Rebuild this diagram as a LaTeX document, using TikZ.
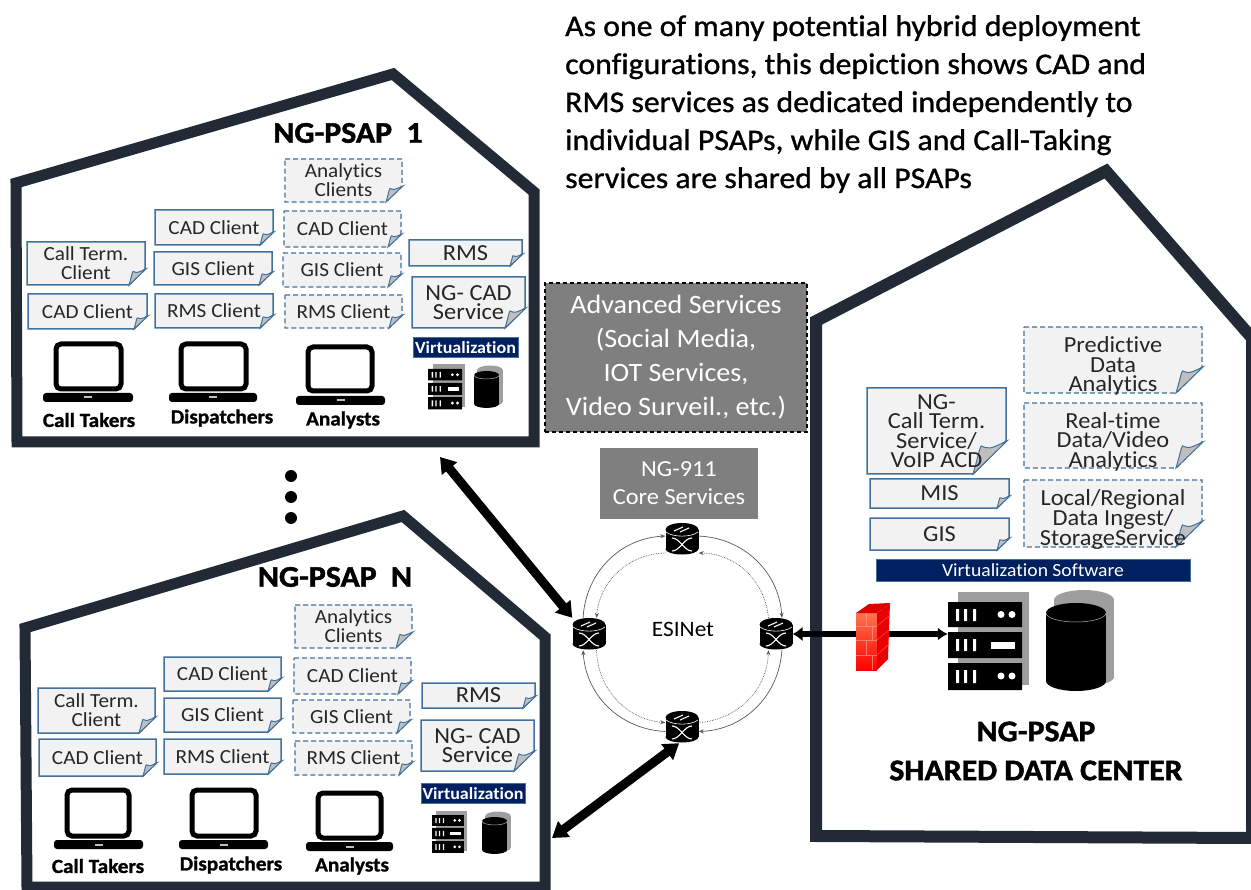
\documentclass[tikz,border=0pt]{standalone}
\usepackage{fontspec}
\setmainfont[FakeStretch=1.06,Ligatures=CommonOff]{Carlito}
\usetikzlibrary{arrows.meta,calc}
\definecolor{wall}{HTML}{222B35}
\definecolor{noteline}{HTML}{41719C}
\definecolor{notefill}{HTML}{F2F2F2}
\definecolor{foldgray}{HTML}{BFBFBF}
\definecolor{navy}{HTML}{002060}
\definecolor{boxgray}{HTML}{7F7F7F}
\newcommand{\ft}[2]{\fontsize{#1}{#2}\selectfont}
\newcommand{\tshift}{0}
\tikzset{
  house/.style={draw=wall,line width=11pt,fill=white,miter limit=10},
  solidnote/.style={draw=noteline,line width=1.5pt,fill=notefill},
  dashnote/.style={draw=noteline,line width=1.4pt,fill=notefill,dash pattern=on 5pt off 3pt},
  notetext/.style={inner sep=0pt,align=center,text=black!85},
  bar/.style={fill=navy,draw=noteline,line width=1pt,text=white,inner sep=0pt,align=center},
  greybox/.style={fill=boxgray,text=white,inner sep=0pt,align=center},
  caption/.style={inner sep=0pt,align=center,font=\addfontfeature{FakeBold=1.2}\bfseries\ft{20}{24}},
  title/.style={inner sep=0pt,align=center,font=\addfontfeature{FakeBold=1.5}\bfseries\ft{30}{39}},
  fat/.style={line width=9pt,black,{Triangle[length=15pt,width=19pt]}-{Triangle[length=15pt,width=19pt]}},
  ringsolid/.style={draw=black!65,line width=.7pt,-{Stealth[length=5pt,width=4pt]}},
  ringdot/.style={draw=black!65,line width=.7pt,densely dotted,-{Stealth[length=5pt,width=4pt]}},
}
% name x1 y1 x2 y2 fold style text font
\newcommand{\notebox}[9]{%
  \draw[#7] (#2,#3) -- (#4,#3) -- (#4,#5-#6) -- (#4-#6,#5) -- (#2,#5) -- cycle;
  \fill[foldgray,draw=noteline,line width=1pt] (#4-#6,#5) .. controls (#4-#6*.85,#5-#6*.5) and (#4-#6*.8,#5-#6*.8) .. (#4-#6*.75,#5-#6*.85) .. controls (#4-#6*.5,#5-#6*.75) .. (#4+1,#5-#6) -- cycle;
  \node[notetext,font=#9] (#1) at ({(#2+#4)/2},{(#3+#5)/2+\tshift}) {#8};
}
% x1 y1 x2 y2 bx1 bx2 by1 by2
\newcommand{\laptop}[8]{%
  \draw[black,line width=5pt,rounded corners=5pt,fill=white] (#1,#2) rectangle (#3,#4);
  \fill[black,rounded corners=3pt] (#5,#7) -- (#6,#7) -- (#6,#8) -- (#5,#8) -- cycle;
  \fill[white!75!black] ({(#5+#6)/2-4},{(#7+#8)/2-1}) rectangle ({(#5+#6)/2+4},{(#7+#8)/2+1});
}
% name x y
\newcommand{\router}[3]{%
  \node[minimum width=33pt,minimum height=32pt,inner sep=0pt] (#1) at (#2,#3) {};
  \begin{scope}[shift={(#2,#3)}]
    \fill[black] (-16.5,-9) rectangle (16.5,10);
    \fill[black] (0,-9.5) ellipse (16.5 and 6.5);
    \fill[black] (0,10) ellipse (16.5 and 5.5);
    \draw[white,line width=.6pt] (-16,-7) .. controls (-9,-1.5) and (9,-1.5) .. (16,-7);
    \draw[white,line width=1.1pt] (-8,-8) -- (1,-12) (-2,-7) -- (7,-11);
    \draw[white,line width=1.1pt] (-10,-1) .. controls (-2,-1) and (2,12) .. (10,12);
    \draw[white,line width=1.1pt] (10,-1) .. controls (2,-1) and (-2,12) .. (-10,12);
  \end{scope}
}
% name x y scale
\newcommand{\servers}[4]{%
  \node[minimum width=#4*74pt,minimum height=#4*88pt,inner sep=0pt] (#1) at ({#2+#4*37},{#3+#4*44}) {};
  \begin{scope}[shift={(#2,#3)},x=#4pt,y=-#4pt]
    \fill[black!38] (10,-10) rectangle (81,83);
    \fill[black] (0,0) rectangle (74,25) (0,30) rectangle (74,56) (0,61) rectangle (74,88);
    \fill[white] (8,7) rectangle (11,19) (16,7) rectangle (19,19) (25,7) rectangle (28,19);
    \fill[white] (8,37) rectangle (11,49) (16,37) rectangle (19,49) (25,37) rectangle (28,49);
    \fill[white] (8,68) rectangle (11,81) (16,68) rectangle (19,81) (25,68) rectangle (28,81);
    \fill[white] (53,12.5) circle (3.5) (64,12.5) circle (3.5) (53,74) circle (3.5) (64,74) circle (3.5);
    \fill[white] (43,40) rectangle (67,47);
  \end{scope}
}
% name x y scale
\newcommand{\drum}[4]{%
  \node[minimum width=#4*60pt,minimum height=#4*88pt,inner sep=0pt] (#1) at ({#2+#4*30},{#3+#4*44}) {};
  \begin{scope}[shift={(#2,#3)},x=#4pt,y=-#4pt]
    \fill[black!38] (8,-3) rectangle (68,74);
    \fill[black!38] (38,-3) ellipse (30 and 10);
    \fill[black!38] (38,74) ellipse (30 and 9);
    \fill[black] (0,10) rectangle (60,78);
    \fill[black] (30,10) ellipse (30 and 10);
    \fill[black] (30,78) ellipse (30 and 10);
    \draw[white!70!black,line width=.5pt] (0,10) arc[start angle=180,end angle=360,x radius=30,y radius=-9];
  \end{scope}
}
\begin{document}
\begin{tikzpicture}[x=1pt,y=-1pt]
\clip (0,0) rectangle (1251,890);
\fill[white] (0,0) rectangle (1251,890);

% ---------- houses
\draw[house] (16,183) -- (393,74) -- (534,192) -- (534,442) -- (17,442) -- cycle;
\draw[house] (25,628) -- (403,516) -- (545,637) -- (545,887) -- (27,887) -- cycle;
\draw[house,line width=12pt] (816,321) -- (1106,171) -- (1252,338) -- (1252,838) -- (816,836) -- cycle;

% ---------- header
\node[anchor=north west,inner sep=0pt,align=left,text=black,font=\addfontfeature{FakeBold=1}\ft{30}{38}] (head) at (565,15)
 {As one of many potential hybrid deployment\\configurations, this depiction shows CAD and\\RMS services as dedicated independently to\\individual PSAPs, while GIS and Call-Taking\\services are shared by all PSAPs};

% ---------- house 1
\node[title] (t1) at (348,133) {NG-PSAP\ \ 1};
\notebox{a1}{27}{242}{145}{285}{16}{solidnote}{Call Term.\\Client}{\ft{20}{19}}
\notebox{a2}{28}{294}{147}{329}{13}{solidnote}{CAD Client}{\ft{20}{20}}
\notebox{b1}{155}{210}{273}{245}{13}{solidnote}{CAD Client}{\ft{20}{20}}
\notebox{b2}{154}{252}{272}{285}{13}{solidnote}{GIS Client}{\ft{20}{20}}
\notebox{b3}{155}{294}{273}{328}{13}{solidnote}{RMS Client}{\ft{20}{20}}
\notebox{c1}{285}{159}{402}{202}{16}{dashnote}{Analytics\\Clients}{\ft{20}{19}}
\notebox{c2}{284}{211}{401}{247}{13}{dashnote}{CAD Client}{\ft{20}{20}}
\notebox{c3}{283}{253}{401}{287}{13}{dashnote}{GIS Client}{\ft{20}{20}}
\notebox{c4}{285}{295}{402}{328}{13}{dashnote}{RMS Client}{\ft{20}{20}}
\notebox{d1}{409}{240}{522}{266}{12}{solidnote}{RMS}{\ft{23}{22}}
\notebox{d2}{412}{277}{525}{328}{20}{solidnote}{NG- CAD\\Service}{\ft{23}{19.5}}
\node[bar,minimum width=105pt,minimum height=20pt,font=\bfseries\ft{17}{18}] (v1) at (465.5,348) {Virtualization};
\servers{s1}{428}{369}{.46}
\drum{y1}{474}{371}{.42}
\laptop{56}{344}{121}{389}{43}{133}{393}{402}
\laptop{181}{344}{246}{389}{169}{257}{393}{402}
\laptop{308}{347}{372}{391}{296}{385}{396}{405}
\node[caption] (l1) at (89,420) {Call Takers};
\node[caption] (l2) at (222,418) {Dispatchers};
\node[caption] (l3) at (343,420) {Analysts};

% ---------- dots
\fill[black] (291,476) circle (6) (291,497) circle (6) (291,518) circle (6);

% ---------- house N
\node[title] (t2) at (335,577) {NG-PSAP\ \ N};
\notebox{e1}{38}{688}{155}{733}{16}{solidnote}{Call Term.\\Client}{\ft{20}{19}}
\notebox{e2}{39}{739}{156}{776}{13}{solidnote}{CAD Client}{\ft{20}{20}}
\notebox{f1}{164}{657}{281}{691}{13}{solidnote}{CAD Client}{\ft{20}{20}}
\notebox{f2}{164}{698}{281}{732}{13}{solidnote}{GIS Client}{\ft{20}{20}}
\notebox{f3}{164}{739}{281}{774}{13}{solidnote}{RMS Client}{\ft{20}{20}}
\notebox{g1}{295}{605}{412}{648}{16}{dashnote}{Analytics\\Clients}{\ft{20}{19}}
\notebox{g2}{294}{658}{411}{694}{13}{dashnote}{CAD Client}{\ft{20}{20}}
\notebox{g3}{293}{700}{410}{733}{13}{dashnote}{GIS Client}{\ft{20}{20}}
\notebox{g4}{295}{741}{412}{775}{13}{dashnote}{RMS Client}{\ft{20}{20}}
\notebox{h1}{422}{683}{535}{708}{12}{solidnote}{RMS}{\ft{23}{22}}
\notebox{h2}{421}{720}{534}{771}{20}{solidnote}{NG- CAD\\Service}{\ft{23}{19.5}}
\node[bar,minimum width=104pt,minimum height=20pt,font=\bfseries\ft{17}{18}] (v2) at (473,793.5) {Virtualization};
\servers{s2}{432}{815}{.43}
\drum{y2}{482}{817}{.42}
\laptop{67}{790}{129}{836}{54}{143}{840}{849}
\laptop{192}{790}{256}{836}{179}{268}{840}{849}
\laptop{318}{793}{381}{838}{306}{393}{842}{851}
\node[caption] (m1) at (98,866) {Call Takers};
\node[caption] (m2) at (231,865) {Dispatchers};
\node[caption] (m3) at (352,866) {Analysts};

% ---------- grey boxes
\node[greybox,draw=black,dash pattern=on 4pt off 3pt,line width=1.5pt,minimum width=262pt,minimum height=149pt,font=\ft{26.5}{34}] (adv) at (676,357.5)
 {Advanced Services\\(Social Media,\\IOT Services,\\Video Surveil., etc.)};
\node[greybox,minimum width=158pt,minimum height=71pt,font=\ft{23}{28}] (core) at (679,483.5) {NG-911\\Core Services};

% ---------- ESINet
\router{rt}{682}{539}
\router{rl}{589}{634}
\router{rr}{776}{634}
\router{rb}{682}{727}
\draw[ringsolid] (rl.110) to[bend left=42] (rt.170);
\draw[ringsolid] (rt.10) to[bend left=42] (rr.70);
\draw[ringsolid] (rr.-70) to[bend left=42] (rb.-15);
\draw[ringsolid] (rb.-165) to[bend left=42] (rl.-110);
\draw[ringdot] (rt.-140) to[bend right=42] (rl.65);
\draw[ringdot] (rr.115) to[bend right=42] (rt.-40);
\draw[ringdot] (rl.-65) to[bend right=42] (rb.165);
\draw[ringdot] (rb.15) to[bend right=42] (rr.-115);
\node[inner sep=0pt,font=\ft{22}{22}] (esi) at (683,629) {ESINet};

% ---------- shared data center
\notebox{n1}{867}{388}{1006}{474}{33}{solidnote}{NG-\\Call Term.\\Service/\\VoIP ACD}{\ft{23}{19.5}}
\notebox{n2}{870}{479}{1009}{508}{12}{solidnote}{MIS}{\ft{23}{22}}
\notebox{n3}{870}{518}{1009}{550}{12}{solidnote}{GIS}{\ft{23}{22}}
\renewcommand{\tshift}{6}
\notebox{p1}{1024}{327}{1202}{393}{26}{dashnote}{Predictive\\Data\\Analytics}{\ft{23}{19.5}}
\notebox{p2}{1024}{403}{1202}{468}{26}{dashnote}{Real-time\\Data/Video\\Analytics}{\ft{23}{19.5}}
\notebox{p3}{1024}{480}{1202}{547}{26}{dashnote}{Local/Regional\\Data Ingest/\\StorageService}{\ft{23}{20}}
\renewcommand{\tshift}{0}
\node[bar,minimum width=314pt,minimum height=22pt,font=\ft{18.5}{18}] (v3) at (1033,570) {Virtualization Software};
\servers{srv}{948}{602}{1}
\drum{dsk}{1046}{603}{1}
\node[title] (t3) at (1036,751) {NG-PSAP\\SHARED DATA CENTER};

% ---------- connectors
\coordinate (h1port) at (440,457);
\coordinate (hnport) at (552,838);
\draw[fat] (h1port) -- (rl.north west);
\draw[fat] (hnport) -- (rb.-100);
\draw[line width=6pt,black,{Latex[length=10pt,width=15pt]}-{Latex[length=10pt,width=13pt]}] (rr.east) -- (srv.west |- rr.east);

% ---------- firewall
\node[minimum width=34pt,minimum height=67pt,inner sep=0pt] (fw) at (873,636.5) {};
\shade[top color=red!55!orange!70!white,bottom color=red] (856,613) -- (877,613) -- (877,670) -- (856,670) -- cycle;
\fill[red!92!black] (877,613) -- (890,603) -- (888,659) -- (877,670) -- cycle;
\fill[red!88!black] (856,613) -- (869,604) -- (890,603) -- (877,613) -- cycle;
\draw[red!40!white,line width=.3pt,opacity=.7] (856,626) -- (877,626) (856,640) -- (877,640) (856,655) -- (877,655) (866,613) -- (866,626) (872,626) -- (872,640) (866,640) -- (866,655) (872,655) -- (872,670);
\draw[red!40!white,line width=.3pt,opacity=.7] (877,626) -- (889,616) (877,640) -- (889,630) (877,655) -- (888,645);
\end{tikzpicture}
\end{document}
